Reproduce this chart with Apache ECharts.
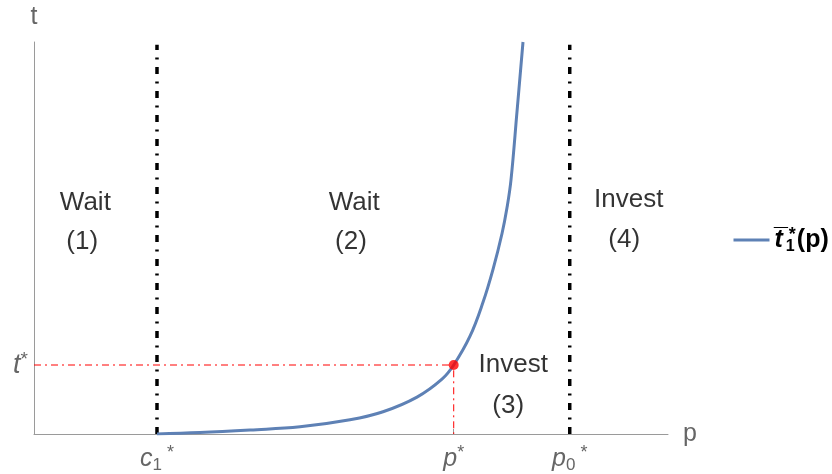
<!DOCTYPE html>
<html>
<head>
<meta charset="utf-8">
<script src="https://cdn.jsdelivr.net/npm/echarts@6/dist/echarts.min.js"></script>
<style>
  html, body { margin: 0; padding: 0; background: #fff; }
  #chart { width: 832px; height: 474px; }
</style>
</head>
<body>
<div id="chart"></div>
<script>
// Threshold curve t̄1*(p) on the (p, t) plane, in plot units (0..100 on both axes)
const curveP = [19.4, 26.18, 34.07, 41.96, 49.84, 55.05, 60.41, 64.35, 66.2, 68.77, 70.82, 72.4, 73.82, 74.61, 75.24, 76.18, 77.13];
const curveT = [0, 0.36, 1.02, 1.83, 3.61, 5.67, 9.41, 13.99, 17.6, 24.94, 33.59, 42.0, 51.15, 57.76, 64.89, 82.19, 100];

// Critical prices and time
const c1Star = 19.4;
const pStar = 66.2;
const p0Star = 84.5;
const tStar = 17.6;
const boundaryTop = 99.3;

// Tick labels
const xTickValues = [c1Star, pStar, p0Star];
const xTickLabels = ['{i|c}{s|1}{u| *}', '{i|p}{u|*}', '{i|p}{s|0}{u| *}'];
const yTickValues = [tStar];
const yTickLabels = ['{i|t}{u|*}'];

// Region captions: text, p, t
const regionText = ['Wait', '(1)', 'Wait', '(2)', 'Invest', '(3)', 'Invest', '(4)'];
const regionP = [8.1, 7.6, 50.5, 50.0, 75.6, 74.8, 93.8, 93.1];
const regionT = [59.0, 48.9, 59.0, 48.9, 17.6, 7.1, 59.8, 49.6];

const FONT = 'Liberation Sans, Arial, sans-serif';
const GRAY = '#666666';
const AXIS = '#9a9a9a';

const tickRich = {
  i: { fontFamily: FONT, fontStyle: 'italic', fontSize: 25, color: GRAY, lineHeight: 30, verticalAlign: 'middle' },
  s: { fontFamily: FONT, fontSize: 17, color: GRAY, lineHeight: 30, verticalAlign: 'bottom' },
  u: { fontFamily: FONT, fontSize: 18, color: GRAY, lineHeight: 30, verticalAlign: 'top' }
};

const chart = echarts.init(document.getElementById('chart'), null, { renderer: 'canvas' });

const option = {
  backgroundColor: '#ffffff',
  animation: false,
  grid: { left: 34, right: 164, top: 42, bottom: 39, containLabel: false },
  legend: {
    data: ['curve'],
    left: 727,
    top: 218,
    itemWidth: 36,
    itemHeight: 14,
    itemGap: 10,
    itemStyle: { opacity: 0 },
    lineStyle: { width: 3, color: '#5e81b5' },
    formatter: function () {
      return '{t|t\u0305}{s|1}{u|*}{p|(p)}';
    },
    textStyle: {
      rich: {
        t: { fontFamily: FONT, fontWeight: 'bold', fontStyle: 'italic', fontSize: 25, color: '#000', lineHeight: 34, verticalAlign: 'middle' },
        s: { fontFamily: FONT, fontWeight: 'bold', fontSize: 16, color: '#000', lineHeight: 34, verticalAlign: 'bottom', width: 0, padding: [0, 0, 2, 3] },
        u: { fontFamily: FONT, fontWeight: 'bold', fontSize: 18, color: '#000', lineHeight: 34, verticalAlign: 'top', padding: [3, 0, 0, 3] },
        p: { fontFamily: FONT, fontWeight: 'bold', fontSize: 25, color: '#000', lineHeight: 34, verticalAlign: 'middle', padding: [0, 0, 0, 1] }
      }
    }
  },
  xAxis: {
    type: 'value',
    min: 0,
    max: 100,
    name: 'p',
    nameLocation: 'end',
    nameGap: 15,
    nameTextStyle: { fontFamily: FONT, fontSize: 25, color: GRAY, verticalAlign: 'middle', padding: [0, 0, 4, 0] },
    splitLine: { show: false },
    axisLine: { show: true, lineStyle: { color: AXIS, width: 1 } },
    axisTick: { show: true, inside: true, length: 5, customValues: xTickValues, lineStyle: { color: AXIS } },
    axisLabel: {
      show: true,
      customValues: xTickValues,
      margin: 10,
      formatter: function (v) {
        const k = xTickValues.indexOf(v);
        return k >= 0 ? xTickLabels[k] : '';
      },
      rich: tickRich
    }
  },
  yAxis: {
    type: 'value',
    min: 0,
    max: 100,
    name: 't',
    nameLocation: 'end',
    nameGap: 12,
    nameTextStyle: { fontFamily: FONT, fontSize: 25, color: GRAY, align: 'center' },
    splitLine: { show: false },
    axisLine: { show: true, lineStyle: { color: AXIS, width: 1 } },
    axisTick: { show: false },
    axisLabel: {
      show: true,
      customValues: yTickValues,
      margin: 6,
      formatter: function (v) {
        const k = yTickValues.indexOf(v);
        return k >= 0 ? yTickLabels[k] : '';
      },
      rich: {
        i: { fontFamily: FONT, fontStyle: 'italic', fontSize: 27, color: GRAY, lineHeight: 30, verticalAlign: 'middle' },
        u: { fontFamily: FONT, fontSize: 19, color: GRAY, lineHeight: 30, verticalAlign: 'top' }
      }
    }
  },
  series: [
    {
      name: 'c1 boundary',
      type: 'line',
      data: [[c1Star, 0], [c1Star, boundaryTop]],
      symbol: 'none',
      silent: true,
      lineStyle: { color: '#000', width: 3.5, type: [7, 7.5, 2, 7.5], cap: 'butt' },
      z: 3
    },
    {
      name: 'p0 boundary',
      type: 'line',
      data: [[p0Star, 0], [p0Star, boundaryTop]],
      symbol: 'none',
      silent: true,
      lineStyle: { color: '#000', width: 3.5, type: [7, 7.5, 2, 7.5], cap: 'butt' },
      z: 3
    },
    {
      name: 'guide',
      type: 'line',
      data: [[0, tStar], [pStar, tStar], [pStar, 0]],
      symbol: 'none',
      silent: true,
      lineStyle: { color: '#ff0000', width: 1, type: [7, 4, 2, 4] },
      z: 2
    },
    {
      name: 'curve',
      type: 'line',
      data: curveP.map((p, i) => [p, curveT[i]]),
      symbol: 'none',
      smooth: 0.4,
      silent: true,
      color: '#5e81b5',
      lineStyle: { color: '#5e81b5', width: 3 },
      z: 4
    },
    {
      name: 'point',
      type: 'scatter',
      data: [[pStar, tStar]],
      symbol: 'circle',
      symbolSize: 10,
      itemStyle: { color: '#ff0000' },
      silent: true,
      z: 6
    },
    {
      name: 'regions',
      type: 'scatter',
      data: regionText.map((s, i) => ({ value: [regionP[i], regionT[i]], name: s })),
      symbolSize: 0,
      silent: true,
      label: {
        show: true,
        position: [0, 0],
        align: 'center',
        verticalAlign: 'middle',
        formatter: (d) => d.name,
        fontFamily: FONT,
        fontSize: 26,
        color: '#000000',
        textBorderWidth: 0
      },
      z: 5
    }
  ]
};

chart.setOption(option);
</script>
</body>
</html>
